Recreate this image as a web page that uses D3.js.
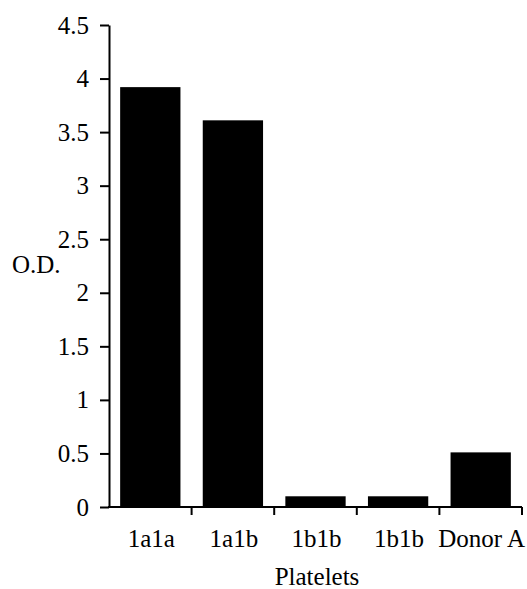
<!DOCTYPE html>
<html><head><meta charset="utf-8">
<script src="https://cdn.jsdelivr.net/npm/d3@7"></script>
<style>body{margin:0;background:#fff}svg{display:block}
text{font-family:"Liberation Serif" !important;}</style>
</head><body>
<script>
const categories = ["1a1a", "1a1b", "1b1b", "1b1b", "Donor A"];
const values = [3.92, 3.61, 0.10, 0.10, 0.51];
const yTicks = [0, 0.5, 1, 1.5, 2, 2.5, 3, 3.5, 4, 4.5];
const yTickLabels = ["0", "0.5", "1", "1.5", "2", "2.5", "3", "3.5", "4", "4.5"];

(function () {
const W = 527, H = 589;
const mLeft = 109, mRight = 522, mTop = 25, mBottom = 507;
const fs = 25;

const svg = d3.select("body").append("svg").attr("width", W).attr("height", H)
  .attr("font-family", "Liberation Serif");

const x = d3.scaleBand().domain(d3.range(categories.length)).range([mLeft, mRight]).paddingInner(0.27).paddingOuter(0.135);
const y = d3.scaleLinear().domain([0, 4.5]).range([mBottom, mTop]);

svg.selectAll("rect.bar").data(values).join("rect")
  .attr("class", "bar")
  .attr("x", (d, i) => x(i))
  .attr("width", x.bandwidth())
  .attr("y", d => y(d))
  .attr("height", d => y(0) - y(d))
  .attr("fill", "#000");

const yAxis = d3.axisLeft(y).tickValues(yTicks).tickFormat((d, i) => yTickLabels[i]).tickSize(9).tickPadding(11).tickSizeOuter(0);
const gy = svg.append("g").attr("transform", `translate(${mLeft},0)`).call(yAxis);
gy.attr("font-family", "Liberation Serif").attr("font-size", fs);
gy.select(".domain").attr("stroke", "#000").attr("stroke-width", 2);
gy.selectAll(".tick line").attr("stroke", "#000").attr("stroke-width", 2);
gy.selectAll(".tick text").attr("fill", "#000");

const xEdges = d3.scaleLinear().domain([0, categories.length]).range([mLeft, mRight]);
const gx = svg.append("g").attr("transform", `translate(0,${mBottom})`)
  .attr("font-family", "Liberation Serif").attr("font-size", fs);
gx.append("line").attr("x1", mLeft - 1).attr("x2", mRight).attr("y1", 0).attr("y2", 0).attr("stroke", "#000").attr("stroke-width", 2);
gx.selectAll("line.t").data(d3.range(1, categories.length + 1)).join("line")
  .attr("class", "t")
  .attr("x1", d => xEdges(d)).attr("x2", d => xEdges(d))
  .attr("y1", 0).attr("y2", 8).attr("stroke", "#000").attr("stroke-width", 2);
gx.selectAll("text").data(categories).join("text")
  .attr("x", (d, i) => xEdges(i + 0.5) + 1)
  .attr("y", 40)
  .attr("text-anchor", "middle")
  .text(d => d);

svg.append("text").attr("x", 317).attr("y", 585).attr("text-anchor", "middle")
  .attr("font-size", fs).text("Platelets");
svg.append("text").attr("x", 12).attr("y", 273)
  .attr("font-size", fs).text("O.D.");
})();
</script>
</body></html>
